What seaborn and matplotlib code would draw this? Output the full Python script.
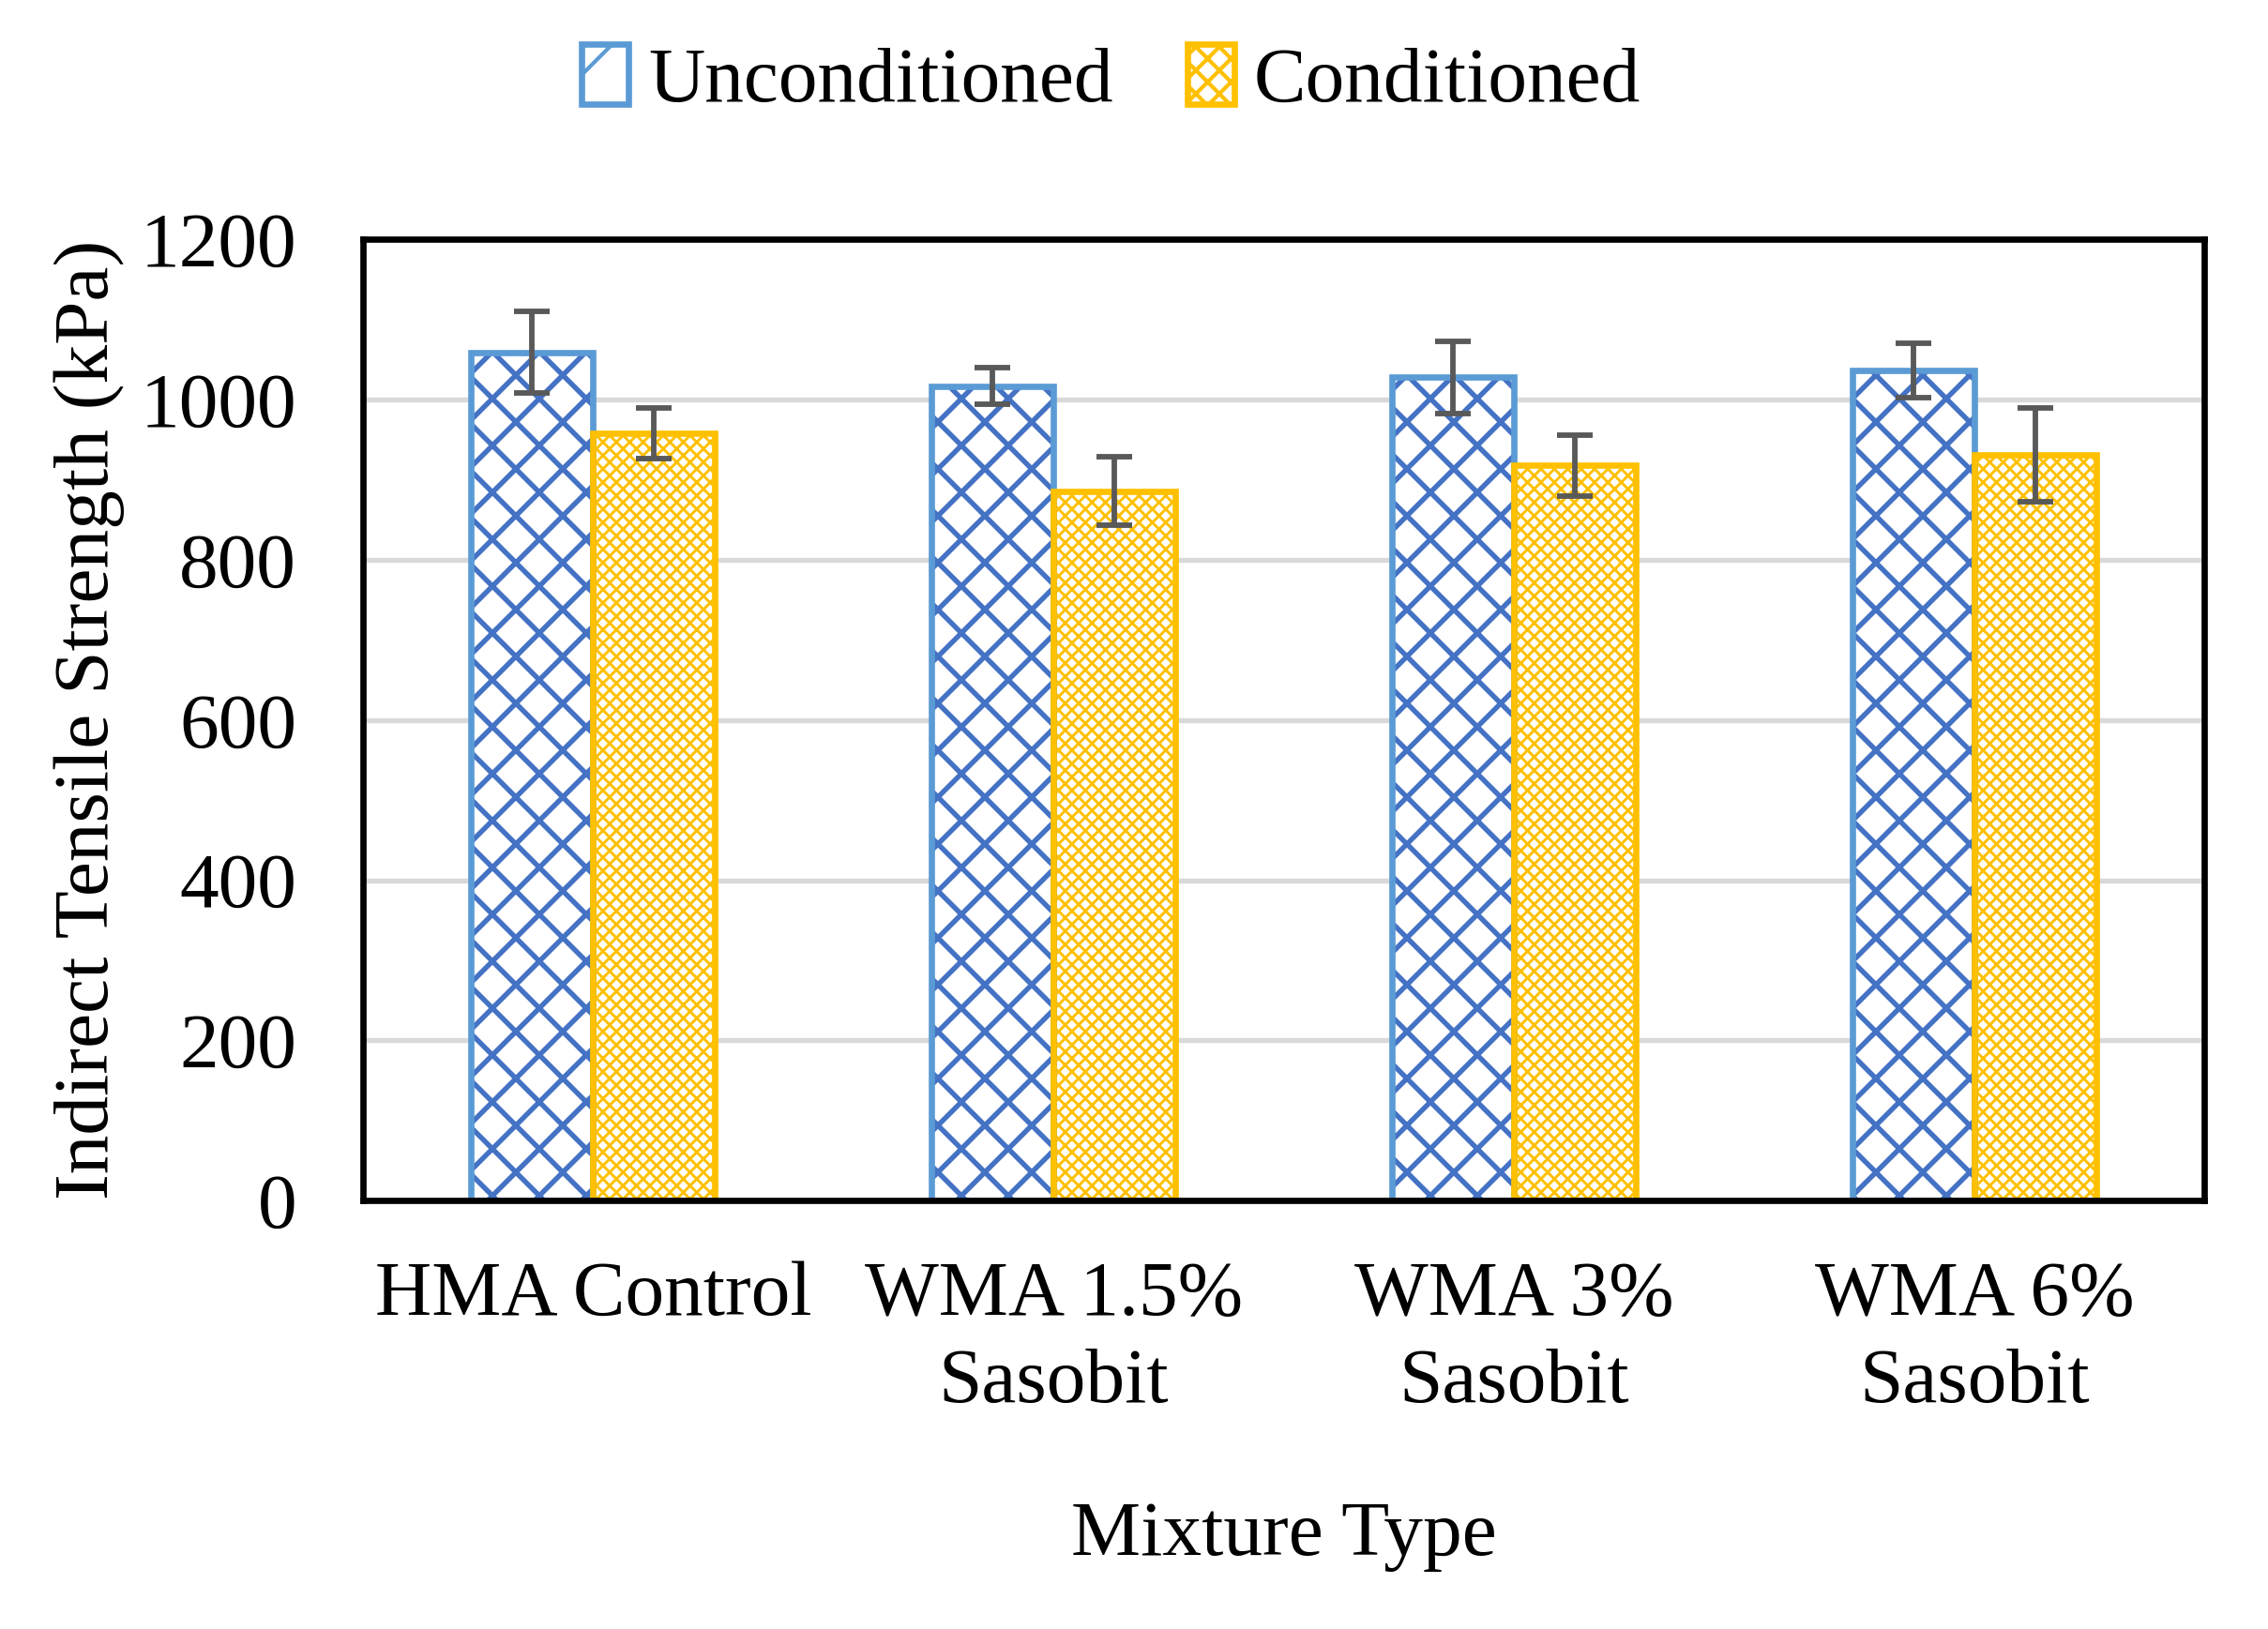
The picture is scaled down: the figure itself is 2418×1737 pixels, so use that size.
import pandas as pd
import seaborn as sns
import matplotlib.pyplot as plt
from matplotlib.patches import Patch, Rectangle

# Data
mixtures = ["HMA Control", "WMA 1.5%\nSasobit", "WMA 3%\nSasobit", "WMA 6%\nSasobit"]
conditions = ["Unconditioned", "Conditioned"]
unconditioned = [1059, 1017, 1028, 1036]
unconditioned_err = [51, 23, 45, 34]
conditioned = [958, 886, 918, 931]
conditioned_err = [32, 43, 38, 59]
y_ticks = [0, 200, 400, 600, 800, 1000, 1200]

df = pd.DataFrame({
    "Mixture": mixtures * 2,
    "Condition": [conditions[0]] * 4 + [conditions[1]] * 4,
    "ITS": unconditioned + conditioned,
})

sns.set_theme(style="white")
plt.rcParams["font.family"] = ["Liberation Serif", "DejaVu Serif"]
plt.rcParams["text.color"] = "black"
plt.rcParams["axes.labelcolor"] = "black"
plt.rcParams["xtick.color"] = "black"
plt.rcParams["ytick.color"] = "black"
plt.rcParams["hatch.linewidth"] = 1.0

fig = plt.figure(figsize=(8.06, 5.79), dpi=300)
ax = fig.add_axes([0.160, 0.263, 0.812, 0.590])

outline = ["#5B9BD5", "#FFC000"]
hatch_col = ["#4472C4", "#FFC000"]
hatches = ["xx", "xxxxxxx"]
hatch_lw = [1.3, 0.7]

sns.barplot(data=df, x="Mixture", y="ITS", hue="Condition", order=mixtures,
            hue_order=conditions, errorbar=None, width=0.53, gap=0,
            palette=["white", "white"], legend=False, ax=ax)

errs = [unconditioned_err, conditioned_err]
vals = [unconditioned, conditioned]
bar_sets = list(ax.containers)
for i, cont in enumerate(bar_sets):
    xs = []
    for p in cont.patches:
        p.set_facecolor("white")
        p.set_edgecolor(hatch_col[i])
        p.set_hatch(hatches[i])
        if hasattr(p, "set_hatch_linewidth"):
            p.set_hatch_linewidth(hatch_lw[i])
        p.set_linewidth(0)
        ax.add_patch(Rectangle(p.get_xy(), p.get_width(), p.get_height(),
                               fill=False, ec=outline[i], lw=1.6, zorder=p.get_zorder() + 0.1))
        xs.append(p.get_x() + p.get_width() / 2)
    ax.errorbar(xs, vals[i], yerr=errs[i], fmt="none", ecolor="#595959",
                elinewidth=1.4, capsize=4.6, capthick=1.4, zorder=5)

ax.set_ylim(0, 1200)
ax.set_xlim(-0.5, 3.5)
ax.set_yticks(y_ticks)
ax.yaxis.grid(True, color="#D9D9D9", linewidth=1.3)
ax.set_axisbelow(True)
for s in ax.spines.values():
    s.set_color("black")
    s.set_linewidth(1.6)

ax.tick_params(axis="y", length=0, pad=17, labelsize=20)
ax.tick_params(axis="x", length=0, pad=15.5, labelsize=20)
for t in ax.get_xticklabels():
    t.set_linespacing(1.3)
ax.set_xlabel("Mixture Type", fontsize=20, labelpad=21)
ax.set_ylabel("Indirect Tensile Strength (kPa)", fontsize=20, labelpad=4)

handles = []
for i in range(2):
    h = Patch(facecolor="white", edgecolor=outline[i], hatch="/" if i == 0 else "xxxx", lw=1.6)
    handles.append(h)
fig.legend(handles, conditions, loc="center", bbox_to_anchor=(0.49, 0.95), ncol=2,
           frameon=False, fontsize=20, handlelength=0.6, handleheight=0.8,
           handletextpad=0.25, columnspacing=0.95)

fig.savefig("out.png", dpi=300)
